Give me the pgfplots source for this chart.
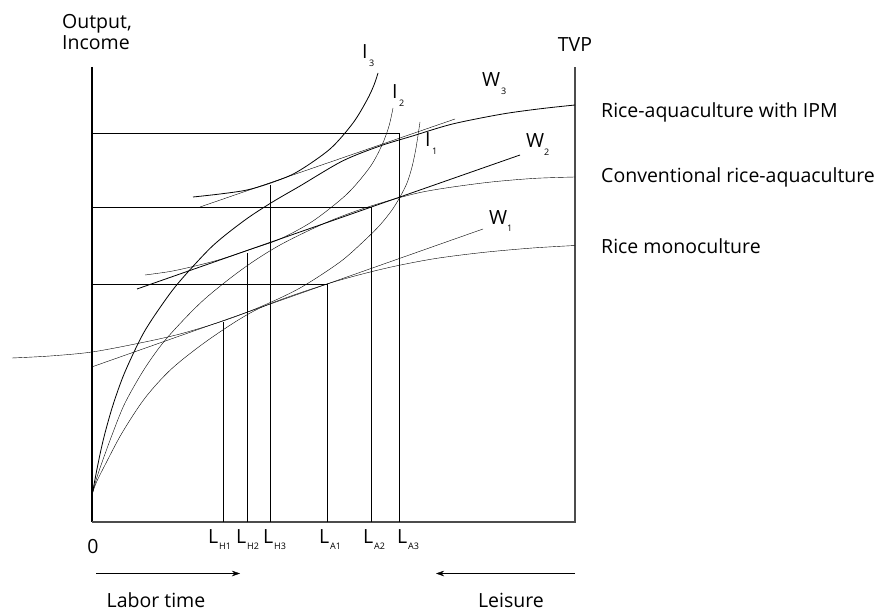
\documentclass[border=0pt]{standalone}
\usepackage{fontspec}
\setmainfont{Open Sans}
\usepackage{pgfplots}
\pgfplotsset{compat=1.18}
\usetikzlibrary{arrows.meta}
\newcommand{\bigtxt}{\fontsize{19.5}{22}\selectfont}
\newcommand{\subtxt}{\fontsize{9}{10}\selectfont}
\tikzset{lab/.style={anchor=base west, inner sep=0pt, font=\bigtxt},
  sb/.style={anchor=base west, inner sep=0pt, font=\subtxt}}
\begin{document}
\begin{tikzpicture}
\useasboundingbox (0,0) rectangle (877pt,612pt);
\begin{axis}[x=1pt, y=1pt, xmin=0, xmax=877, ymin=0, ymax=612, y dir=reverse,
  hide axis, clip=false, at={(0,0)}, anchor=south west,
  cycle list={{black, solid, mark=none, line width=0.8pt}}]
% axes
\addplot[black, line width=1.1pt] coordinates {(92,67) (92,522)};
\addplot[black!70, line width=1.6pt] coordinates {(91.5,522) (575,522) (575,67)};
% horizontal output lines
\addplot coordinates {(92,133) (399,133)};
\addplot coordinates {(92,207) (371,207)};
\addplot coordinates {(92,284) (327,284)};
% vertical labor lines
\addplot coordinates {(223,322) (223,522)};
\addplot coordinates {(247,253) (247,522)};
\addplot coordinates {(270,185) (270,522)};
\addplot coordinates {(327,284) (327,522)};
\addplot coordinates {(371,207) (371,522)};
\addplot coordinates {(399,133) (399,522)};
% TVP curves
\addplot+[smooth] coordinates {(92.5,493) (94.5,482) (97,469) (100.5,452) (105,433) (113,405) (124.5,373) (143,334) (162.5,304) (180,281) (212.5,246) (245,220) (272.5,202) (300,186) (342.5,161) (380,146) (412.5,136) (452.5,124) (502.5,114) (542.5,108.5) (575,105)};
\addplot+[smooth] coordinates {(92.5,493) (95.5,482) (100,468) (112,435) (125,403) (145,368) (167,338) (202.5,301) (242.5,269) (280,245) (327.5,222) (371,206) (422.5,192) (482.5,183) (532.5,178.5) (575,177)};
\addplot+[smooth] coordinates {(92.5,493) (96.5,482) (105,465) (122,433) (145,398) (172.5,368) (212.5,337) (260,308) (327,284) (382.5,269) (432.5,259) (482.5,252.5) (532.5,248) (575,245.5)};
% wage lines
\addplot coordinates {(92.5,366.7) (483,229)};
\addplot coordinates {(137,289) (520,155)};
\addplot coordinates {(200,207) (455,119)};
% indifference curves
\addplot+[smooth] coordinates {(12,358) (50,356) (92,352) (140,343) (180,334) (223,321) (260,307) (300,288) (340,262) (365,240) (380,225) (392,210) (400,197) (407,183) (412,167) (416,148) (420,122)};
\addplot+[smooth] coordinates {(145,275) (170,271.5) (193,266.5) (220,259.5) (250,249.5) (280,239) (313,221) (347,194) (370,167) (382,145) (389,126) (393,108)};
\addplot+[smooth] coordinates {(193,197) (220,194) (247,190) (272,182.5) (297,172) (330,149) (353,123) (367,100) (374,85) (378,73)};
% arrows
\addplot+[-{Stealth[length=8pt,width=5.5pt]}] coordinates {(96,573.5) (240,573.5)};
\addplot+[-{Stealth[length=8pt,width=5.5pt]}] coordinates {(575,573.5) (436,573.5)};
% texts
\node[lab] at (axis cs:62,29) {Output,};
\node[lab] at (axis cs:62,50) {Income};
\node[anchor=base, inner sep=0pt, font=\bigtxt] at (axis cs:575,52) {TVP};
\node[lab] at (axis cs:601,118) {Rice-aquaculture with IPM};
\node[lab] at (axis cs:601,183) {Conventional rice-aquaculture};
\node[lab] at (axis cs:601,254) {Rice monoculture};
% I labels
\node[lab] at (axis cs:362,59) {I}; \node[sb] at (axis cs:369,67) {3};
\node[lab] at (axis cs:392,99) {I}; \node[sb] at (axis cs:399,107) {2};
\node[lab] at (axis cs:425,147) {I}; \node[sb] at (axis cs:432,155) {1};
% W labels
\node[lab] at (axis cs:482,87) {W}; \node[sb] at (axis cs:501,95) {3};
\node[lab] at (axis cs:526,148) {W}; \node[sb] at (axis cs:544,156) {2};
\node[lab] at (axis cs:489,225) {W}; \node[sb] at (axis cs:507,232) {1};
% bottom labels
\node[anchor=base, inner sep=0pt, font=\bigtxt] at (axis cs:93,553) {0};
\node[lab] at (axis cs:208,543) {L}; \node[sb] at (axis cs:219,549) {H1};
\node[lab] at (axis cs:236,543) {L}; \node[sb] at (axis cs:247,549) {H2};
\node[lab] at (axis cs:263,543) {L}; \node[sb] at (axis cs:274,549) {H3};
\node[lab] at (axis cs:319,543) {L}; \node[sb] at (axis cs:330,549) {A1};
\node[lab] at (axis cs:363,543) {L}; \node[sb] at (axis cs:374,549) {A2};
\node[lab] at (axis cs:397,543) {L}; \node[sb] at (axis cs:408,549) {A3};
\node[anchor=base, inner sep=0pt, font=\bigtxt] at (axis cs:156,607) {Labor time};
\node[anchor=base, inner sep=0pt, font=\bigtxt] at (axis cs:511,607) {Leisure};
\end{axis}
\end{tikzpicture}
\end{document}
